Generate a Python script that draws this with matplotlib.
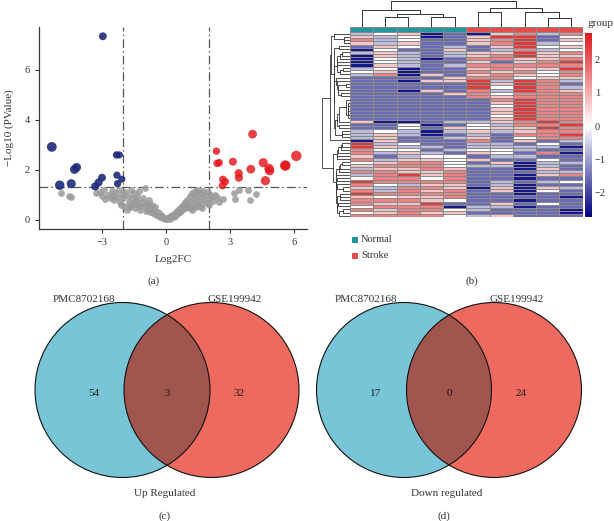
import numpy as np
import matplotlib
matplotlib.use('Agg')
import matplotlib.pyplot as plt
from matplotlib.colors import LinearSegmentedColormap, ListedColormap
from matplotlib.patches import Circle, Rectangle

plt.rcParams['font.family'] = ['Liberation Serif', 'DejaVu Serif']

W, H = 614, 521

# ---- (a) volcano data ----
down_fc = [-2.96, -5.35, -4.98, -4.44, -4.29, -4.19, -3.32, -3.16, -3.00,
           -2.32, -2.19, -2.30, -2.27, -2.07]
down_p = [7.33, 2.91, 1.38, 1.44, 2.01, 2.09, 1.33, 1.49, 1.68,
          2.59, 2.59, 1.78, 1.44, 1.62]
up_fc = [2.36, 2.39, 2.49, 2.66, 2.77, 2.64, 3.13, 3.40, 3.41, 4.05, 3.97,
         4.55, 4.82, 4.85, 4.65, 5.60, 5.57, 6.10]
up_p = [2.74, 2.25, 2.28, 1.61, 1.52, 1.36, 2.32, 1.86, 1.68, 3.42, 2.02,
        2.28, 2.05, 1.96, 1.56, 2.17, 2.16, 2.55]
ns_fc = [-4.90, -4.54, -4.46, -3.30, -3.10, -3.00, -2.90, -2.85, -2.70, -2.60,
         -2.55, -2.45, -2.40, -2.30, -2.20, -2.15, -2.05, -2.00, -1.95, -1.90,
         -1.85, -1.80, -1.75, -1.70, -1.65, -1.60, -1.55, -1.50, -1.45, -1.40,
         -1.35, -1.30, -1.25, -1.20, -1.15, -1.10, -1.05, -1.00, -0.95, -0.90,
         -0.85, -0.80, -0.75, -0.70, -0.65, -0.60, -0.55, -0.50, -0.45, -0.40,
         -0.35, -0.30, -0.25, -0.20, -0.15, -0.10, -0.05, 0.00, 0.05, 0.10,
         0.15, 0.20, 0.25, 0.30, 0.35, 0.40, 0.45, 0.50, 0.55, 0.60,
         0.65, 0.70, 0.75, 0.80, 0.85, 0.90, 0.95, 1.00, 1.05, 1.10,
         1.15, 1.20, 1.25, 1.30, 1.35, 1.40, 1.45, 1.50, 1.55, 1.60,
         1.65, 1.70, 1.75, 1.80, 1.85, 1.90, 1.95, 2.05, 2.10, 2.20,
         2.30, 2.40, 2.50, 2.66, 3.16, 3.24, 3.40, 3.83, 3.94, 4.22,
         -1.60, -1.20, -0.90, -0.60, -0.30, 0.30, 0.60, 0.90, 1.20, 1.50,
         -2.10, -1.75, -1.35, -0.80, 0.80, 1.10, 1.40, 1.70, 2.00, -2.50]
ns_p = [1.05, 0.94, 0.92, 1.08, 1.12, 0.95, 1.20, 0.82, 1.00, 0.88,
        1.15, 0.78, 1.05, 0.92, 1.20, 0.70, 1.00, 0.85, 0.55, 1.10,
        0.40, 0.95, 0.70, 0.50, 1.20, 0.85, 0.62, 1.05, 0.45, 0.78,
        0.95, 0.60, 1.15, 0.40, 0.72, 0.88, 0.55, 1.25, 0.35, 0.65,
        0.50, 0.80, 0.30, 0.45, 0.60, 0.25, 0.38, 0.50, 0.20, 0.30,
        0.15, 0.22, 0.10, 0.14, 0.06, 0.08, 0.03, 0.01, 0.02, 0.06,
        0.10, 0.04, 0.15, 0.20, 0.10, 0.28, 0.18, 0.35, 0.25, 0.42,
        0.30, 0.50, 0.38, 0.60, 0.45, 0.70, 0.52, 0.80, 0.62, 0.95,
        0.70, 1.05, 0.55, 0.85, 1.15, 0.65, 0.95, 1.20, 0.75, 1.05,
        0.60, 0.90, 1.15, 0.80, 1.00, 0.65, 1.10, 0.85, 1.00, 0.75,
        0.98, 0.90, 0.70, 0.81, 1.05, 0.81, 1.18, 1.18, 0.79, 1.02,
        0.65, 0.55, 0.42, 0.30, 0.12, 0.14, 0.32, 0.45, 0.40, 0.55,
        0.60, 0.50, 0.70, 0.62, 0.55, 0.48, 0.52, 0.45, 0.60, 0.95]
fc_cut = 2.0
p_cut = 1.3

# ---- (b) heatmap data (row-scaled expression, read by eye) ----
groups = ['Normal'] * 5 + ['Stroke'] * 5
group_colors = {'Normal': '#23979d', 'Stroke': '#e64c4a'}
levels = {'N': -2.5, 'b': -1.6, 'l': -0.7, 'w': 0.0, 'p': 0.7, 'r': 1.5, 'R': 2.4}
heat_rows = [
    'lwpNbNprlr', 'plwNbpRRbw', 'rlwbbprRbp', 'plpbbprRlw', 'bpwblbpRwp',
    'Nwbbpblrlw', 'lplblppRpr', 'NplblprRpp', 'NwlNbrrppr', 'NwlbbpbprR',
    'Nplblrrrrr', 'lwNbbprppR', 'wpNbbrprwr', 'lrNpbprpwr', 'bbbbprrwpp',
    'bbNppRlRrl', 'bbbbbRpRrb', 'bbbbbRwRrl', 'bbNpbrlRrp', 'bbbbprwrrr',
    'bbbbbrprrr', 'bbbbbbrRrr', 'bbbbbbpRrr', 'bbbbbbwRrr', 'bbbbbbpRrr',
    'bbbbbbpRrr', 'bbbbbbwRrr', 'bbbbbbpRrr', 'pNNbllprRr', 'bbwNbwlrrR',
    'bbwbpwppRr', 'lwlNlplprr', 'lplNblbrrR', 'lpbblpbwrr', 'Npbbbrbpbl',
    'Rlwbbllbwb', 'RpllbllllN', 'rwwblwwlbb', 'rlplbpwbrN', 'pblwwbllbb',
    'rlppwpbbwb', 'wprrwbpNll', 'prrrwllNlb', 'lpprpbbNpb', 'rrpprbbbll',
    'lrRprbbNpr', 'wrrwrbbNbb', 'RrrrrblblW'.replace('W', 'w'), 'rwlppblNbb',
    'plrrpNpNpl', 'rlrprbpNwb', 'RrrrrbbNbb', 'pwpprbbbbN', 'rrrpwbbNbb',
    'rppRbbpbwb', 'wrrrNllNbb', 'rprrwlbbbN', 'wprppbbbbN', 'rrrrwlpbbb',
]
# column dendrogram: (child a, child b, height), new ids start at 10
col_merges = [(1, 2, 0.39), (3, 4, 0.39), (10, 11, 0.49), (0, 12, 0.63),
              (5, 6, 0.57), (8, 9, 0.33), (7, 15, 0.57), (14, 16, 0.73),
              (13, 17, 0.98)]

# ---- (c)/(d) venn data ----
venn_names = ['PMC8702168', 'GSE199942']
up_counts = [54, 3, 32]
down_counts = [17, 0, 24]


def px_axes(fig, x0, y0, x1, y1):
    return fig.add_axes([x0 / W, 1 - y1 / H, (x1 - x0) / W, (y1 - y0) / H])


def ordered_linkage(mat):
    # average linkage, only neighbouring clusters merge (keeps the row order)
    n = len(mat)
    clusters = [[i] for i in range(n)]
    ids = list(range(n))
    hs = [0.0] * n
    merges = []
    new_id = n
    while len(clusters) > 1:
        best = None
        for i in range(len(clusters) - 1):
            a = mat[clusters[i]]
            b = mat[clusters[i + 1]]
            d = np.sqrt(((a[:, None, :] - b[None, :, :]) ** 2).sum(-1)).mean()
            if best is None or d < best[0]:
                best = (d, i)
        d, i = best
        h = max(d, hs[i], hs[i + 1])
        merges.append((ids[i], ids[i + 1], h))
        clusters[i] = clusters[i] + clusters[i + 1]
        del clusters[i + 1]
        ids[i] = new_id
        del ids[i + 1]
        hs[i] = h
        del hs[i + 1]
        new_id += 1
    return merges


def dendro_segments(merges, n):
    pos = {i: i + 0.5 for i in range(n)}
    hgt = {i: 0.0 for i in range(n)}
    segs = []
    for k, (a, b, h) in enumerate(merges):
        segs.append([(pos[a], hgt[a]), (pos[a], h), (pos[b], h), (pos[b], hgt[b])])
        pos[n + k] = (pos[a] + pos[b]) / 2
        hgt[n + k] = h
    return segs


fig = plt.figure(figsize=(W / 100, H / 100), dpi=100)

# ================= (a) volcano =================
ax = px_axes(fig, 39, 27, 307, 229)
ax.scatter(ns_fc, ns_p, s=24, color='#9a9a9a', alpha=0.85, lw=0, zorder=2)
ax.scatter(down_fc, down_p, s=[(0.72 * (5.5 + 0.8 * abs(v))) ** 2 for v in down_fc],
           color='#1f2a78', alpha=0.9, lw=0, zorder=3)
ax.scatter(up_fc, up_p, s=[(0.72 * (5.5 + 0.8 * abs(v))) ** 2 for v in up_fc],
           color='#e3161b', alpha=0.82, lw=0, zorder=3)
dash = (0, (7, 2.5, 1.2, 2.5))
for v in (-fc_cut, fc_cut):
    ax.axvline(v, color='#555555', lw=0.9, ls=dash, zorder=1)
ax.axhline(p_cut, color='#555555', lw=0.9, ls=dash, zorder=1)
ax.set_xlim(-5.95, 6.6)
ax.set_ylim(-0.37, 7.7)
ax.set_xticks([-3, 0, 3, 6])
ax.set_yticks([0, 2, 4, 6])
for side in ('top', 'right'):
    ax.spines[side].set_visible(False)
for side in ('left', 'bottom'):
    ax.spines[side].set_color('#3a3a3a')
    ax.spines[side].set_linewidth(0.9)
ax.tick_params(labelsize=7.5, colors='#333333', length=3, width=0.8)
ax.set_xlabel('Log2FC', fontsize=8, color='#333333', labelpad=6)
ax.set_ylabel('\u2212Log10 (PValue)', fontsize=8, color='#333333', labelpad=8)
ax.patch.set_alpha(0)

# ================= (b) heatmap =================
mat = np.array([[levels[c] for c in row] for row in heat_rows])
n_rows, n_cols = mat.shape
cmap = LinearSegmentedColormap.from_list('hm', ['#000080', '#ffffff', '#dc1a1c'])
grid = '#8a8a8a'

axh = px_axes(fig, 350, 32, 582.7, 217.3)
mesh = axh.pcolormesh(mat, cmap=cmap, vmin=-2.75, vmax=2.8,
                      edgecolors=grid, linewidth=0.45)
axh.set_xlim(0, n_cols)
axh.set_ylim(n_rows, 0)
axh.axis('off')

axg = px_axes(fig, 350, 27.3, 582.7, 32)
gcodes = np.array([[0 if g == 'Normal' else 1 for g in groups]])
axg.pcolormesh(gcodes, cmap=ListedColormap([group_colors['Normal'], group_colors['Stroke']]),
               vmin=0, vmax=1, edgecolors=grid, linewidth=0.45)
axg.set_xlim(0, n_cols)
axg.axis('off')

# column dendrogram
axc = px_axes(fig, 350, 0.5, 582.7, 27.3)
for seg in dendro_segments(col_merges, n_cols):
    xs, ys = zip(*seg)
    axc.plot(xs, ys, color='#333333', lw=0.7)
axc.set_xlim(0, n_cols)
axc.set_ylim(0, 1.0)
axc.axis('off')

# row dendrogram
row_merges = ordered_linkage(mat)
top_h = row_merges[-1][2]
axr = px_axes(fig, 322, 32, 350, 217.3)
for seg in dendro_segments(row_merges, n_rows):
    ps, hs_ = zip(*seg)
    axr.plot(hs_, ps, color='#333333', lw=0.6)
axr.set_xlim(top_h * 1.01, 0)
axr.set_ylim(n_rows, 0)
axr.axis('off')

# colour key
cax = px_axes(fig, 585.3, 33.3, 592, 217.3)
cb = fig.colorbar(mesh, cax=cax, ticks=[-2, -1, 0, 1, 2])
cb.outline.set_visible(False)
cax.tick_params(length=0, labelsize=7.5, colors='#333333', pad=2)
fig.text(587 / W, 1 - 24 / H, 'group', fontsize=8, color='#333333', va='center')

# ================= overlay: legend, venns, panel tags =================
ov = fig.add_axes([0, 0, 1, 1])
ov.set_xlim(0, W)
ov.set_ylim(H, 0)
ov.axis('off')
ov.patch.set_alpha(0)

for k, g in enumerate(['Normal', 'Stroke']):
    y = 240 + 16 * k
    ov.add_patch(Rectangle((352, y - 3), 6, 6, fc=group_colors[g], ec='none'))
    ov.text(361, y, g, fontsize=7.5, color='#333333', va='center')


def draw_venn(cx, cy, r, d, counts, title):
    c_left = Circle((cx - d / 2, cy), r, fc='#79c5d8', ec='none', zorder=1)
    c_right = Circle((cx + d / 2, cy), r, fc='#ef6a5e', ec='none', zorder=1)
    ov.add_patch(c_left)
    ov.add_patch(c_right)
    inter = Circle((cx + d / 2, cy), r, fc='#a0554f', ec='none', zorder=2)
    ov.add_patch(inter)
    inter.set_clip_path(c_left)
    for x in (cx - d / 2, cx + d / 2):
        ov.add_patch(Circle((x, cy), r, fill=False, ec='#111111', lw=0.8, zorder=3))
    for dx, val in zip((-73, 0, 72), counts):
        ov.text(cx + dx, cy + 3, str(val), fontsize=8, ha='center', va='center',
                color='#1a1a1a', zorder=4)
    ov.text(cx - 83, 299, venn_names[0], fontsize=8, ha='center', va='center', color='#333333')
    ov.text(cx + 68, 299, venn_names[1], fontsize=8, ha='center', va='center', color='#333333')
    ov.text(cx - 2, 494, title, fontsize=8, ha='center', va='center', color='#333333')


draw_venn(167, 390, 87.5, 89, up_counts, 'Up Regulated')
draw_venn(449, 390, 87.5, 90, down_counts, 'Down regulated')

for tag, x, y in (('(a)', 154, 281), ('(b)', 472, 281), ('(c)', 165, 516), ('(d)', 444, 516)):
    ov.text(x, y, tag, fontsize=8, ha='center', va='center', color='#333333')

fig.savefig('out.png', dpi=100)
